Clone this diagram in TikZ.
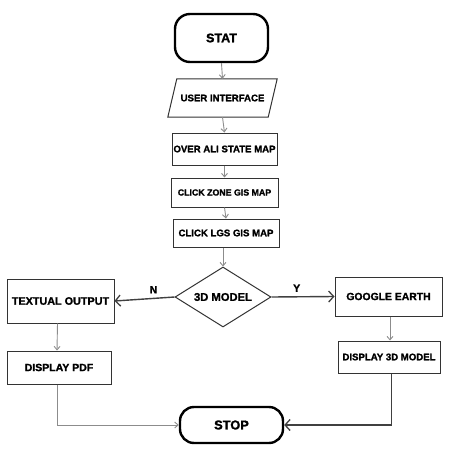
\documentclass[tikz,border=0pt]{standalone}
\usepackage{fontspec}
\setmainfont{Liberation Sans}[BoldFont=Liberation Sans Bold,BoldFeatures={FakeBold=1.5}]
\usetikzlibrary{shapes.geometric,arrows.meta,calc}
\begin{document}
\begin{tikzpicture}[x=1pt,y=-1pt,
  box/.style={draw=black!80,line width=1pt,inner sep=0pt,font=\bfseries},
  term/.style={draw=black,line width=2.4pt,rounded corners=15pt,inner sep=0pt,font=\bfseries},
  garrow/.style={draw=black!45,line width=0.9pt,-{Straight Barb[length=3.5pt,width=6pt]}},
  darrow/.style={draw=black!75,line width=1.4pt,-{Straight Barb[length=5pt,width=11pt,line width=1.3pt]}},
  lbl/.style={font=\bfseries\fontsize{10.5}{12}\selectfont}
]
\useasboundingbox (0,0) rectangle (450,455);
\node[term,minimum width=93pt,minimum height=48pt,font=\bfseries\fontsize{12.5}{14}\selectfont] (stat) at (221.5,38) {STAT};
\node[inner sep=0pt,minimum width=100pt,minimum height=38pt,font=\bfseries\fontsize{9.6}{11}\selectfont] (ui) at (222.5,98) {USER INTERFACE};
\draw[draw=black!80,line width=1pt] ([xshift=4.5pt]ui.north west) -- ([xshift=4.5pt]ui.north east) -- ([xshift=-4.5pt]ui.south east) -- ([xshift=-4.5pt]ui.south west) -- cycle;
\node[box,minimum width=105pt,minimum height=32pt,font=\bfseries\fontsize{9.6}{11}\selectfont] (over) at (224.5,149) {OVER ALI STATE MAP};
\node[box,minimum width=107pt,minimum height=29pt,font=\bfseries\fontsize{8.8}{10}\selectfont] (zone) at (224.5,192.5) {CLICK ZONE GIS MAP};
\node[box,minimum width=106pt,minimum height=28pt,font=\bfseries\fontsize{9.6}{11}\selectfont] (lgs) at (226,233) {CLICK LGS GIS MAP};
\node[diamond,draw=black!80,line width=1pt,inner sep=0pt,minimum width=96pt,minimum height=60pt] (dia) at (223,297) {};
\node[inner sep=0pt,font=\bfseries\fontsize{11.2}{13}\selectfont] (diatext) at (dia.center) {3D MODEL};
\node[box,minimum width=107pt,minimum height=44pt,font=\bfseries\fontsize{10.8}{12}\selectfont] (text) at (60.5,301) {TEXTUAL OUTPUT};
\node[box,minimum width=104pt,minimum height=33pt,font=\bfseries\fontsize{10.5}{12}\selectfont] (pdf) at (59,367.5) {DISPLAY PDF};
\node[box,minimum width=107pt,minimum height=39pt,font=\bfseries\fontsize{10.4}{12}\selectfont] (google) at (388.5,296.5) {GOOGLE EARTH};
\node[box,minimum width=102pt,minimum height=32pt,font=\bfseries\fontsize{9.6}{11}\selectfont] (d3) at (389,357) {DISPLAY 3D MODEL};
\node[term,rounded corners=14pt,minimum width=103pt,minimum height=36pt,font=\bfseries\fontsize{12.8}{14}\selectfont] (stop) at (231.5,425) {STOP};
\draw[garrow] (stat.south) -- (ui.north);
\draw[garrow] (ui.south) -- (over.north);
\draw[garrow] (over.south) -- (zone.north);
\draw[garrow] (zone.south) -- (lgs.north);
\draw[garrow] ([xshift=-3pt]lgs.south) -- (dia.north);
\draw[darrow] (dia.west) -- node[lbl,above=1pt,pos=0.35] {N} (text.east);
\draw[darrow] (dia.east) -- node[lbl,above=1pt,pos=0.4] {Y} (google.west);
\draw[garrow] ([xshift=-3pt]text.south) -- ([xshift=-2pt]pdf.north);
\draw[garrow] ([xshift=1.5pt]google.south) -- ([xshift=1pt]d3.north);
\draw[garrow] ([xshift=-2pt]pdf.south) |- (stop.west);
\draw[darrow,line width=1.2pt] ([xshift=2.5pt]d3.south) |- (stop.east);
\end{tikzpicture}
\end{document}
